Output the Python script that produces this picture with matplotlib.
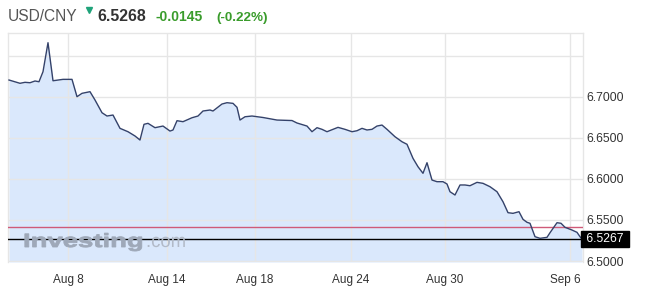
import matplotlib
matplotlib.use("Agg")
import matplotlib.pyplot as plt
from matplotlib.lines import Line2D
from matplotlib.textpath import TextPath
from matplotlib.patches import PathPatch
from matplotlib.font_manager import FontProperties
from matplotlib.transforms import Affine2D, ScaledTranslation, blended_transform_factory

# ---- data (time index in trading-time units, USD/CNY rate) ----
t = [1, 12, 17, 22, 27, 31, 35, 40, 45, 55, 64, 69, 74, 82, 87, 94, 99, 105, 112, 120,
     127, 132, 136, 140, 147, 155, 162, 165, 169, 175, 184, 190, 195, 202, 205, 214, 219,
     225, 229, 232, 237, 244, 255, 269, 284, 289, 299, 304, 309, 314, 319, 325, 330, 337,
     344, 349, 354, 359, 364, 369, 374, 379, 387, 394, 399, 405, 410, 415, 419, 424, 429,
     435, 439, 442, 447, 452, 457, 462, 469, 475, 482, 489, 495, 500, 505, 511, 515, 519,
     522, 527, 532, 539, 542, 549, 553, 557, 564, 569, 572, 574]
rate = [6.7202, 6.7162, 6.7174, 6.7169, 6.7190, 6.7181, 6.7303, 6.7656, 6.7193, 6.7210,
        6.7210, 6.6999, 6.7040, 6.7060, 6.6959, 6.6804, 6.6764, 6.6776, 6.6614, 6.6573,
        6.6521, 6.6472, 6.6663, 6.6675, 6.6622, 6.6642, 6.6581, 6.6594, 6.6707, 6.6695,
        6.6743, 6.6764, 6.6825, 6.6837, 6.6825, 6.6910, 6.6926, 6.6918, 6.6870, 6.6715,
        6.6755, 6.6764, 6.6746, 6.6715, 6.6709, 6.6679, 6.6642, 6.6573, 6.6622, 6.6602,
        6.6573, 6.6602, 6.6626, 6.6602, 6.6573, 6.6585, 6.6614, 6.6594, 6.6602, 6.6642,
        6.6654, 6.6602, 6.6512, 6.6451, 6.6420, 6.6249, 6.6147, 6.6067, 6.6196, 6.5985,
        6.5965, 6.5965, 6.5937, 6.5843, 6.5803, 6.5925, 6.5925, 6.5916, 6.5957, 6.5945,
        6.5904, 6.5843, 6.5721, 6.5588, 6.5580, 6.5600, 6.5507, 6.5471, 6.5459, 6.5296,
        6.5276, 6.5288, 6.5344, 6.5466, 6.5459, 6.5410, 6.5377, 6.5349, 6.5296, 6.5267]
x_tick_pos = [60, 159, 247, 343, 437, 562]
x_tick_labels = ["Aug 8", "Aug 14", "Aug 18", "Aug 24", "Aug 30", "Sep 6"]
y_ticks = [6.50, 6.55, 6.60, 6.65, 6.70, 6.75]
y_tick_labels = ["6.5000", "6.5500", "6.6000", "6.6500", "6.7000", ""]
last_value = 6.5267
prev_close = 6.5413
symbol = "USD/CNY"
price_text = "6.5268"
change_text = "-0.0145"
pct_text = "(-0.22%)"

W, H = 650, 303
fig = plt.figure(figsize=(W / 100, H / 100), dpi=100)
ax = fig.add_axes([8 / W, (H - 262) / H, 575 / W, 229 / H])

ymin, ymax = 6.4988, 6.7774
ax.set_xlim(0, 575)
ax.set_ylim(ymin, ymax)

ax.fill_between(t, rate, ymin, color="#dae8fc", lw=0, zorder=1)
ax.plot(t, rate, color="#34426a", lw=1.0, zorder=5)

ax.axhline(prev_close, color="#cf5a78", lw=1.0, zorder=4)
ax.axhline(last_value, color="#000000", lw=1.0, zorder=4)

ax.set_xticks(x_tick_pos)
ax.set_xticklabels(x_tick_labels)
ax.set_yticks(y_ticks)
ax.set_yticklabels(y_tick_labels)
ax.yaxis.tick_right()
ax.tick_params(axis="x", length=0, pad=8.5, labelsize=8.5, labelcolor="#333333")
ax.tick_params(axis="y", length=0, pad=2.5, labelsize=8.8, labelcolor="#333333")
for lab in ax.get_xticklabels() + ax.get_yticklabels():
    lab.set_fontfamily("Liberation Sans")
ax.get_xticklabels()[-1].set_transform(
    ax.get_xticklabels()[-1].get_transform() + ScaledTranslation(-5 / 100, 0, fig.dpi_scale_trans))

ax.grid(True, color="#e6e6e6", lw=1.0, zorder=2)
ax.set_axisbelow(False)
for sp in ax.spines.values():
    sp.set_color("#e6e6e6")
    sp.set_linewidth(1.0)
ax.spines["bottom"].set_visible(False)

# last value tag
trans = blended_transform_factory(ax.transAxes, ax.transData)
ax.text(1.0, last_value, " " + f"{last_value:.4f}" + " ", transform=trans, ha="left", va="center",
        fontsize=8.8, family="Liberation Sans", color="white", zorder=10, clip_on=False,
        bbox=dict(boxstyle="square,pad=0.15", fc="black", ec="black"))

# watermark
fp_b = FontProperties(family="Liberation Sans", weight="bold")
tp = TextPath((0, 0), "Investing", size=1, prop=fp_b)
patch = PathPatch(tp, transform=Affine2D().scale(27.5, 19.2).translate(23, H - 247),
                  fc="#9ea8b8", ec="#9ea8b8", lw=0.6, zorder=3)
fig.add_artist(patch)
fp_n = FontProperties(family="Liberation Sans")
tp2 = TextPath((0, 0), ".com", size=1, prop=fp_n)
patch2 = PathPatch(tp2, transform=Affine2D().scale(18.5, 19.2).translate(146, H - 247),
                   fc="#b2bac8", ec="none", zorder=3)
fig.add_artist(patch2)

# header
yb = 1 - 20.7 / H
fig.text(8 / W, yb, symbol, fontsize=11.2, family="Liberation Sans", color="#555555", va="baseline")
fig.add_artist(Line2D([88.5 / W], [1 - 9.5 / H], marker="v", markersize=4.2, color="#1fa37a",
                      transform=fig.transFigure))
fig.text(97 / W, yb, price_text, fontsize=11.4, family="Liberation Sans", weight="bold",
         color="#333333", va="baseline")
fig.text(155 / W, yb, change_text, fontsize=10, family="Liberation Sans", weight="bold",
         color="#3a9c2c", va="baseline")
fig.text(216 / W, yb, pct_text, fontsize=9.7, family="Liberation Sans", weight="bold",
         color="#3a9c2c", va="baseline")

fig.savefig("out.png", dpi=100)
